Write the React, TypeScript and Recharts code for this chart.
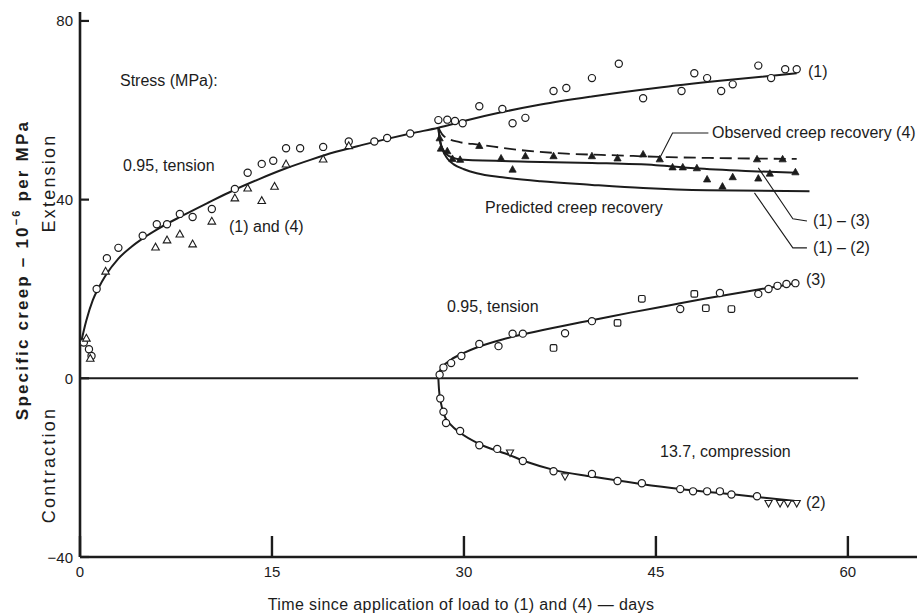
import React from "react";
import {
  ComposedChart,
  Line,
  Scatter,
  XAxis,
  YAxis,
  ReferenceLine,
} from "recharts";

// [days, specific creep] pairs
const fit1 = [
  [0, 7], [0.5, 13], [1, 17.5], [1.5, 20.5], [2, 23], [3, 26.8], [4, 29.4], [5, 31.5],
  [6, 33.3], [8, 36.4], [10, 39.3], [12, 42.1], [14, 44.6], [16, 46.9], [18, 48.9],
  [20, 50.7], [22, 52.2], [24, 53.6], [26, 54.9], [28, 56.1], [30, 57.6], [33, 59.6],
  [36, 61.3], [40, 63.1], [45, 65], [50, 66.6], [56, 68.3],
];
const observed4 = [
  [28, 56.1], [28.3, 54.6], [28.8, 53.6], [29.6, 52.9], [31.2, 52.3], [34.7, 51],
  [38, 50.3], [42, 49.9], [46, 49.5], [50, 49.3], [56, 49.1],
];
const pred13 = [
  [28, 56.1], [28.15, 53], [28.4, 51], [28.8, 49.8], [30, 48.9], [35, 48.5], [40, 48.2],
  [45, 47.7], [48, 47], [52, 46.4], [56, 46],
];
const pred12 = [
  [28, 56.1], [28.1, 53.6], [28.35, 51], [28.7, 49.2], [29.2, 47.9], [30, 46.8],
  [31, 45.9], [33, 45], [36, 44.1], [40, 43.3], [44, 42.6], [49, 42.1], [57, 41.9],
];
const fit3 = [
  [28, 0], [28.1, 1.5], [28.4, 2.8], [29, 4.2], [30, 5.7], [31, 6.9], [33, 8.7], [35, 10.1],
  [38, 11.9], [40, 13], [43, 14.7], [46, 16.3], [49, 17.9], [52, 19.4], [56, 21.3],
];
const fit2 = [
  [28, 0], [28.05, -2.5], [28.2, -5.5], [28.5, -8.5], [29, -10.5], [29.7, -12.2],
  [31.2, -14.7], [33.3, -16.9], [35, -18.8], [37, -20.5], [40, -22], [43.7, -23.6],
  [46.9, -24.8], [50.8, -25.9], [56, -27.5],
];

const circles1 = [
  [0.3, 8], [0.7, 6.5], [0.9, 5], [1.3, 20], [2.1, 26.9], [3, 29.2], [4.9, 31.9], [6, 34.5],
  [6.8, 34.5], [7.8, 36.8], [8.8, 36.1], [10.3, 37.9], [12.1, 42.4], [13.1, 46], [14.2, 48],
  [15.1, 48.7], [16.1, 51.5], [17.2, 51.5], [19, 51.8], [21, 53], [23, 53], [24, 53.8],
  [25.8, 54.8], [28, 57.8], [28.7, 57.9], [29.3, 57.6], [29.9, 57.1], [31.2, 60.9],
  [33, 60.3], [33.8, 57.1], [34.8, 58.3], [37, 64.3], [38, 65], [40, 67.2], [42.1, 70.4],
  [44, 62.7], [47, 64.3], [48, 68.3], [49, 67.2], [50.1, 64.3], [51, 65.8], [53, 70],
  [54, 67.2], [55.1, 69.2], [56, 69.2],
];
const triangles4Early = [
  [0.5, 9], [0.8, 4.5], [2, 24], [5.9, 29.4], [6.8, 31], [7.8, 32.3], [8.8, 30.1],
  [10.3, 35.2], [12.1, 40.4], [13.1, 42.6], [14.2, 39.8], [15.2, 43], [16.1, 48],
  [19, 49.1], [21, 52.1],
];
const triangles4Recovery = [
  [28.1, 53.8], [28.2, 51.5], [28.7, 50.9], [29.1, 49.2], [29.7, 49], [31.2, 52.1],
  [32.9, 49.3], [33.8, 46.8], [34.8, 49.8], [37, 49.8], [40, 49.8], [42, 49.3], [44, 50.2],
  [45.3, 49.1], [46.3, 47.3], [47.1, 47.3], [48.2, 47.1], [49, 44.6], [50.2, 43], [51, 45.1],
  [52.9, 49.1], [53, 44.8], [53.9, 45.9], [54.9, 49.1], [55.9, 46.2],
];
const circles3 = [
  [28.1, 0.8], [28.4, 2.4], [29, 3.4], [29.8, 5], [31.2, 7.7], [32.7, 7.2], [33.8, 10],
  [34.6, 10], [37.9, 10.1], [40, 12.8], [46.9, 15.5], [50, 19.1], [53, 18.9], [53.8, 20],
  [54.5, 20.7], [55.2, 21.1], [55.9, 21.3],
];
const squares3 = [[37, 6.8], [42, 12.4], [43.9, 17.8], [48, 18.9], [48.9, 15.7], [50.9, 15.5]];
const circles2 = [
  [28.15, -4.5], [28.4, -7.5], [28.6, -10], [29.7, -11.8], [31.2, -15], [32.6, -15.8],
  [34.6, -18.5], [37, -20.8], [40, -21.4], [42, -23], [43.9, -23.5], [46.9, -24.8],
  [47.9, -25.3], [49, -25.3], [50, -25.3], [50.9, -26], [52.9, -26.4],
];
const invTriangles2 = [[33.6, -16.7], [37.9, -22], [53.8, -28], [54.7, -28], [55.3, -28], [56, -28]];

// leader lines for the annotations
const leaderObserved = [[45.3, 49.3], [46.3, 54.9], [49.1, 54.9]];
const leader13 = [[53, 47.1], [55.7, 35.7], [56.8, 35.2]];
const leader12 = [[52.7, 41.5], [55.7, 29.2], [56.8, 29.2]];

const xTicks = [0, 15, 30, 45, 60];
const yTicks = [-40, 0, 40, 80];

const pts = (a: number[][]) => a.map(([t, v]) => ({ t, v }));

const INK = "#1c1c1c";
const FONT = "'Liberation Sans', Arial, sans-serif";

const Circle = (p: any) => (
  <circle cx={p.cx} cy={p.cy} r={3.6} fill="#fff" stroke={INK} strokeWidth={1.2} />
);
const Square = (p: any) => (
  <rect x={p.cx - 3.3} y={p.cy - 3.3} width={6.6} height={6.6} rx={1.5} fill="#fff" stroke={INK} strokeWidth={1.2} />
);
const tri = (cx: number, cy: number, s: number, up: boolean) =>
  up
    ? `${cx},${cy - s} ${cx - s},${cy + s * 0.8} ${cx + s},${cy + s * 0.8}`
    : `${cx},${cy + s} ${cx - s},${cy - s * 0.8} ${cx + s},${cy - s * 0.8}`;
const OpenTri = (p: any) => (
  <polygon points={tri(p.cx, p.cy, 3.8, true)} fill="#fff" stroke={INK} strokeWidth={1.1} />
);
const FilledTri = (p: any) => (
  <polygon points={tri(p.cx, p.cy, 3.6, true)} fill={INK} stroke={INK} strokeWidth={0.8} />
);
const InvTri = (p: any) => (
  <polygon points={tri(p.cx, p.cy, 3.6, false)} fill="#fff" stroke={INK} strokeWidth={1.1} />
);

const YTick = ({ x, y, payload }: any) => (
  <g>
    <line x1={x} x2={x + 9} y1={y} y2={y} stroke={INK} strokeWidth={2.2} />
    <text x={x - 7} y={y} textAnchor="end" dominantBaseline="central" fontSize={15} fill={INK} fontFamily={FONT}>
      {payload.value < 0 ? `\u2212${Math.abs(payload.value)}` : payload.value}
    </text>
  </g>
);
const XTick = ({ x, y, payload }: any) => (
  <g>
    <line x1={x} x2={x} y1={y} y2={y - 21} stroke={INK} strokeWidth={2.4} />
    <text x={x} y={y + 14} textAnchor="middle" dominantBaseline="central" fontSize={15} fill={INK} fontFamily={FONT}>
      {payload.value}
    </text>
  </g>
);

const notes = [
  { text: "Stress (MPa):", x: 120, y: 80 },
  { text: "0.95, tension", x: 123, y: 165 },
  { text: "(1) and (4)", x: 229, y: 226 },
  { text: "(1)", x: 808, y: 71 },
  { text: "Observed creep recovery (4)", x: 712, y: 132 },
  { text: "Predicted creep recovery", x: 485, y: 207 },
  { text: "(1) \u2013 (3)", x: 813, y: 220 },
  { text: "(1) \u2013 (2)", x: 813, y: 247 },
  { text: "0.95, tension", x: 447, y: 306 },
  { text: "(3)", x: 806, y: 279 },
  { text: "13.7, compression", x: 660, y: 451 },
  { text: "(2)", x: 806, y: 502 },
];

export default function App() {
  return (
    <div style={{ position: "absolute", left: 0, top: 0, width: 920, height: 614, background: "#fff" }}>
      <ComposedChart width={920} height={614} margin={{ top: 12, right: 3, left: 0, bottom: 0 }}>
        <XAxis
          type="number"
          dataKey="t"
          domain={[0, 65.4]}
          ticks={xTicks}
          interval={0}
          height={57}
          tickSize={0}
          tickMargin={0}
          tick={<XTick />}
          axisLine={{ stroke: INK, strokeWidth: 2.6 }}
          tickLine={false}
        />
        <YAxis
          type="number"
          domain={[-40, 82]}
          ticks={yTicks}
          interval={0}
          width={80}
          tickSize={0}
          tickMargin={0}
          tick={<YTick />}
          axisLine={{ stroke: INK, strokeWidth: 2.6 }}
          tickLine={false}
        />
        <ReferenceLine segment={[{ x: 0, y: 0 }, { x: 60.8, y: 0 }]} stroke={INK} strokeWidth={2} />

        <Line data={pts(leaderObserved)} dataKey="v" type="linear" stroke={INK} strokeWidth={1.1} dot={false} activeDot={false} isAnimationActive={false} />
        <Line data={pts(leader13)} dataKey="v" type="linear" stroke={INK} strokeWidth={1.1} dot={false} activeDot={false} isAnimationActive={false} />
        <Line data={pts(leader12)} dataKey="v" type="linear" stroke={INK} strokeWidth={1.1} dot={false} activeDot={false} isAnimationActive={false} />

        <Line data={pts(fit1)} dataKey="v" type="monotone" stroke={INK} strokeWidth={2} dot={false} activeDot={false} isAnimationActive={false} />
        <Line data={pts(observed4)} dataKey="v" type="monotone" stroke={INK} strokeWidth={1.8} strokeDasharray="12 6" dot={false} activeDot={false} isAnimationActive={false} />
        <Line data={pts(pred13)} dataKey="v" type="monotone" stroke={INK} strokeWidth={2} dot={false} activeDot={false} isAnimationActive={false} />
        <Line data={pts(pred12)} dataKey="v" type="monotone" stroke={INK} strokeWidth={2} dot={false} activeDot={false} isAnimationActive={false} />
        <Line data={pts(fit3)} dataKey="v" type="monotone" stroke={INK} strokeWidth={2} dot={false} activeDot={false} isAnimationActive={false} />
        <Line data={pts(fit2)} dataKey="v" type="monotone" stroke={INK} strokeWidth={2} dot={false} activeDot={false} isAnimationActive={false} />

        <Scatter data={pts(circles1)} dataKey="v" shape={Circle} isAnimationActive={false} />
        <Scatter data={pts(triangles4Early)} dataKey="v" shape={OpenTri} isAnimationActive={false} />
        <Scatter data={pts(triangles4Recovery)} dataKey="v" shape={FilledTri} isAnimationActive={false} />
        <Scatter data={pts(circles3)} dataKey="v" shape={Circle} isAnimationActive={false} />
        <Scatter data={pts(squares3)} dataKey="v" shape={Square} isAnimationActive={false} />
        <Scatter data={pts(circles2)} dataKey="v" shape={Circle} isAnimationActive={false} />
        <Scatter data={pts(invTriangles2)} dataKey="v" shape={InvTri} isAnimationActive={false} />
      </ComposedChart>

      <svg width={920} height={614} style={{ position: "absolute", left: 0, top: 0, pointerEvents: "none" }}>
        <g fontFamily={FONT} fill={INK}>
          {notes.map((n, i) => (
            <text key={i} x={n.x} y={n.y} fontSize={16} dominantBaseline="central">
              {n.text}
            </text>
          ))}
          <text transform="translate(22 270) rotate(-90)" textAnchor="middle" dominantBaseline="central" fontSize={17} fontWeight="bold" letterSpacing={2.2}>
            Specific creep {"\u2013"} 10
            <tspan fontSize={11} dy={-6}>{"\u22126"}</tspan>
            <tspan dy={6}> per MPa</tspan>
          </text>
          <text transform="translate(49 183) rotate(-90)" textAnchor="middle" dominantBaseline="central" fontSize={18} letterSpacing={2.2}>
            Extension
          </text>
          <text transform="translate(49 465) rotate(-90)" textAnchor="middle" dominantBaseline="central" fontSize={18} letterSpacing={2.2}>
            Contraction
          </text>
          <text x={461} y={604} textAnchor="middle" dominantBaseline="central" fontSize={16} letterSpacing={0.4}>
            Time since application of load to (1) and (4) {"\u2014"} days
          </text>
        </g>
      </svg>
    </div>
  );
}
